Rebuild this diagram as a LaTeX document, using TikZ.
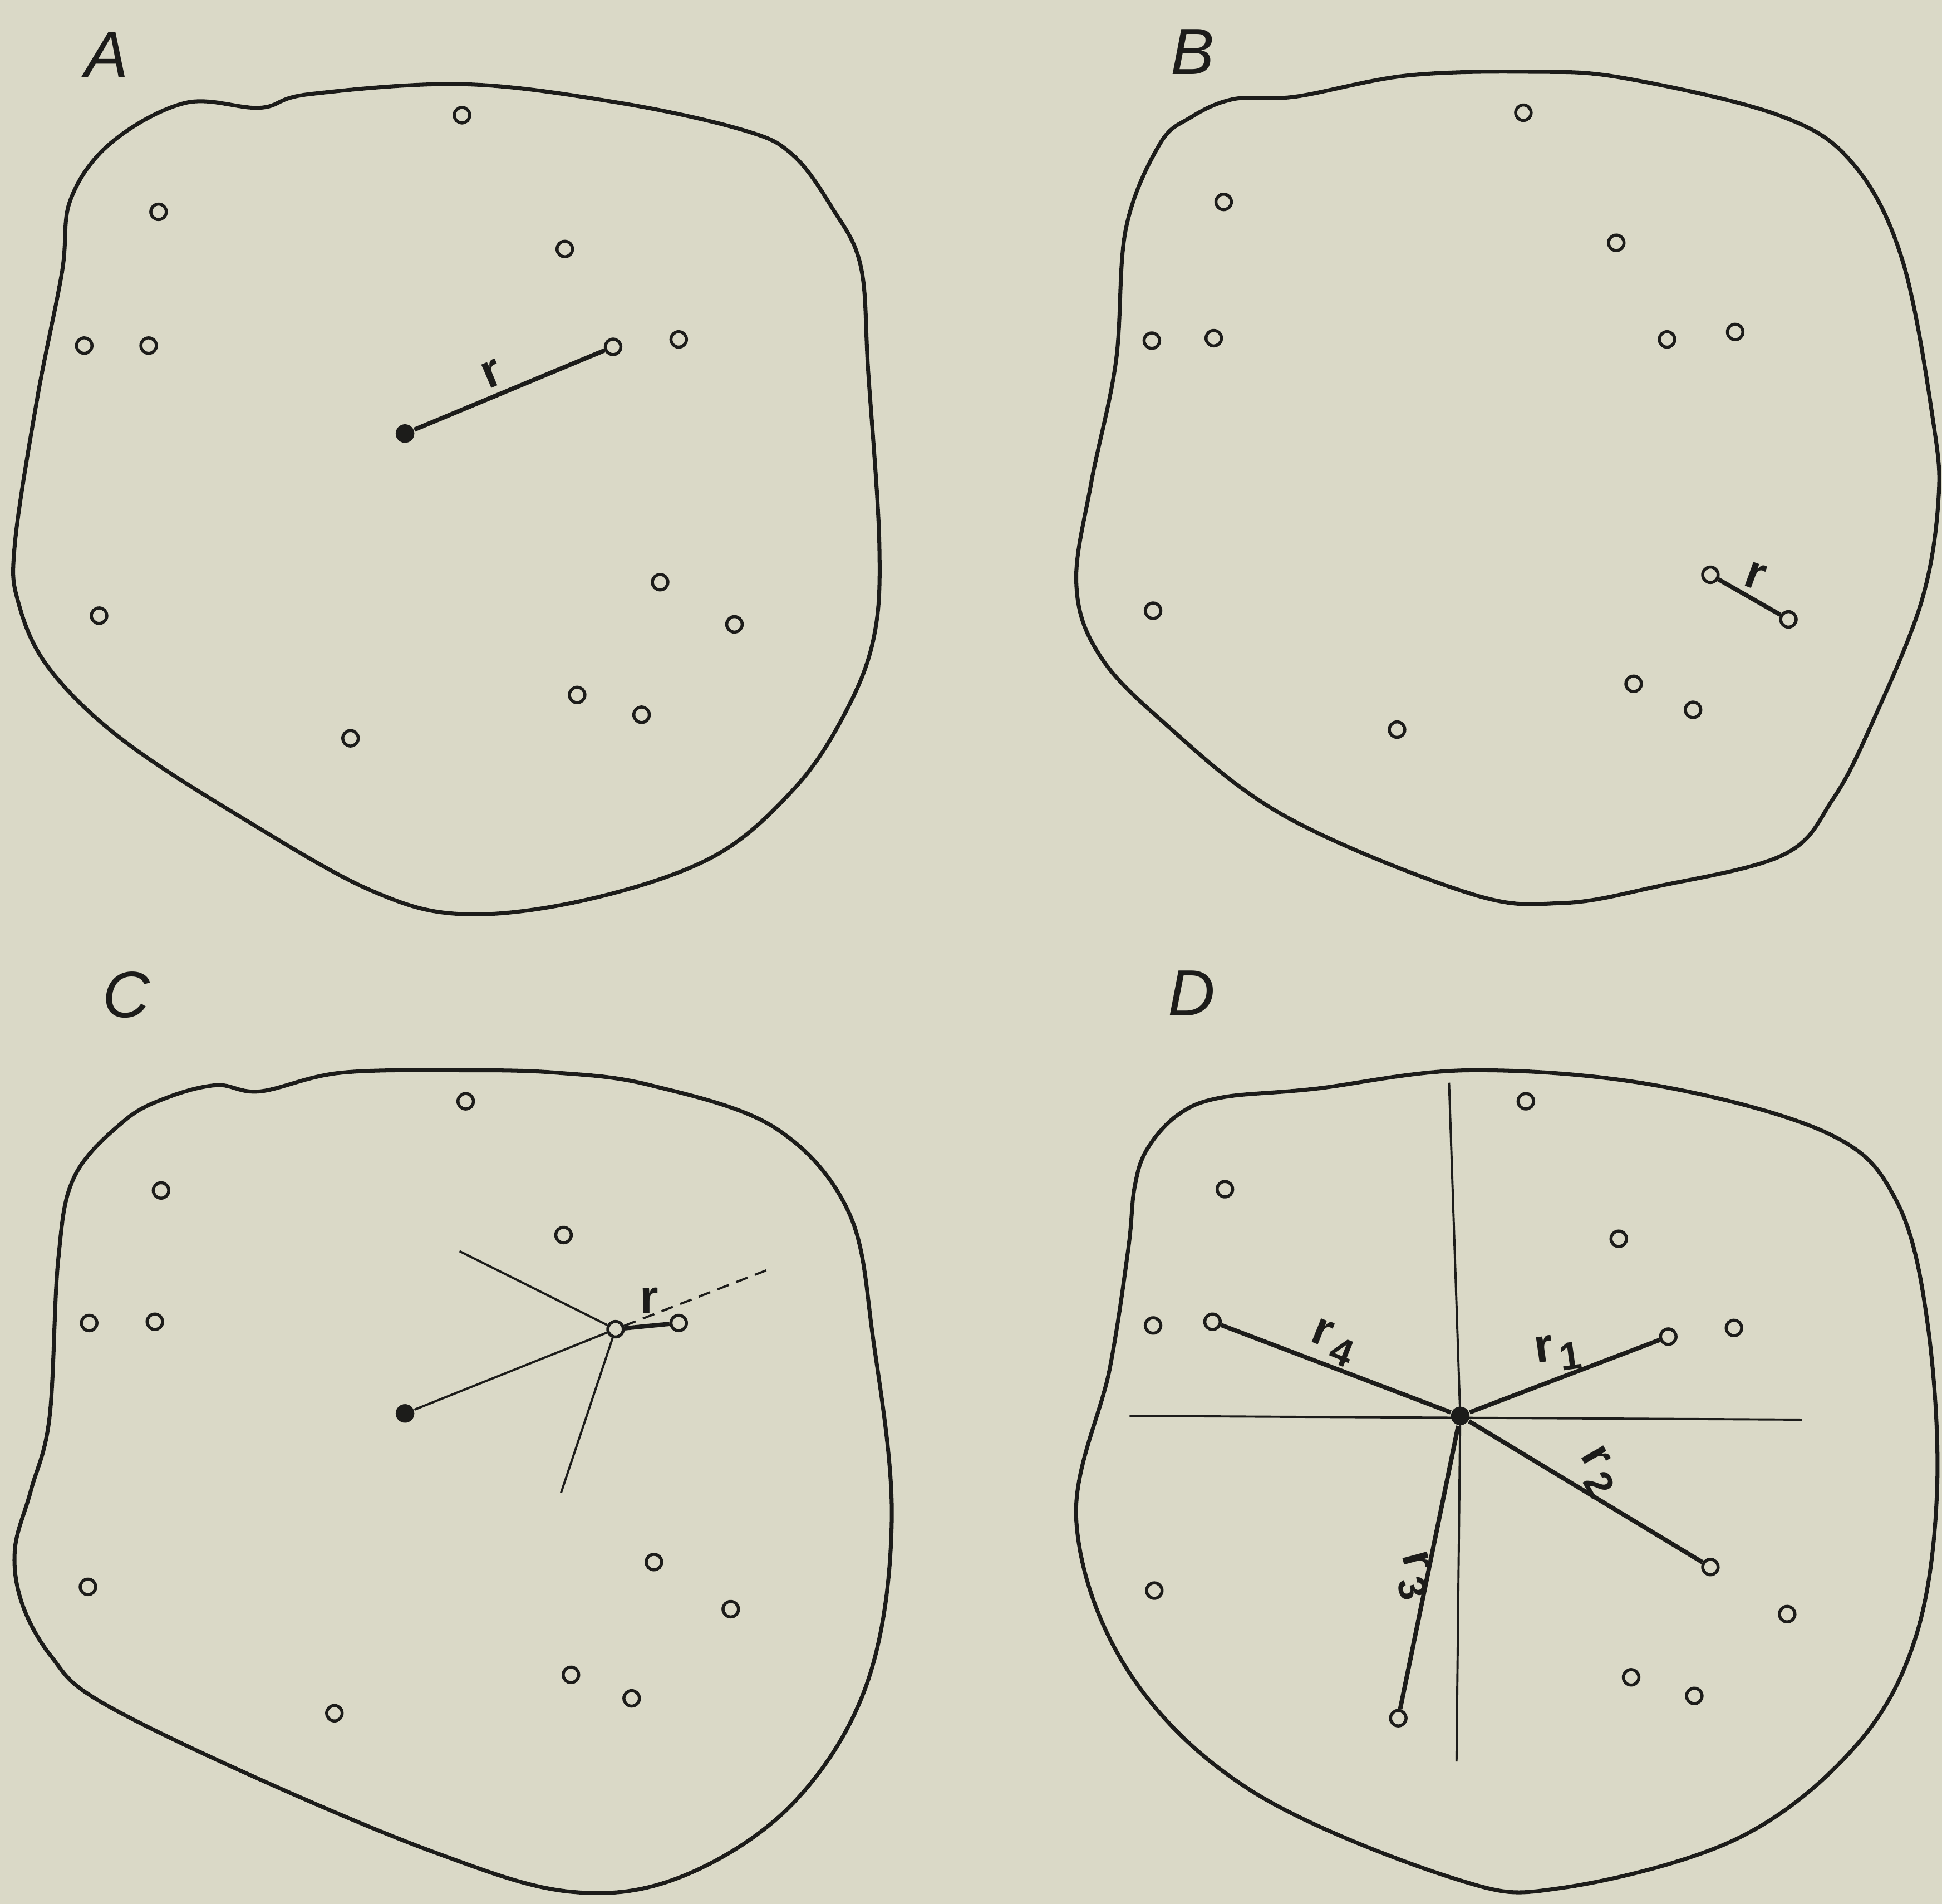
\documentclass[tikz,border=0pt]{standalone}
\usepackage{fontspec}
\setsansfont{Liberation Sans}
\begin{document}
\begin{tikzpicture}[x=0.01cm,y=-0.01cm]
\definecolor{paper}{RGB}{218,217,199}
\definecolor{ink}{RGB}{28,28,26}
\tikzset{
  pt/.style={circle,draw=ink,line width=0.7pt,minimum size=0.125cm,inner sep=0pt},
  dot/.style={circle,fill=ink,minimum size=0.15cm,inner sep=0pt},
  outline/.style={draw=ink,line width=0.9pt},
  thinl/.style={draw=ink,line width=0.5pt},
  thickl/.style={draw=ink,line width=1pt},
  panellabel/.style={font=\fontsize{15}{15}\selectfont\sffamily\itshape,text=ink},
  rlab/.style={font=\fontsize{11}{11}\selectfont\sffamily\bfseries,text=ink,inner sep=0pt}
}
\newcommand{\rsub}[1]{r\kern1.2pt\raisebox{-0.45ex}{\fontsize{9}{9}\selectfont #1}}
\fill[paper] (0,0) rectangle (1568,1537);
\useasboundingbox (0,0) rectangle (1568,1537);

% ---------------- Panel A ----------------
\node[panellabel] (labA) at (86,44) {A};
\draw[outline] plot[smooth cycle,tension=0.6] coordinates {
(150,83) (210,87) (250,76) (375,68) (500,83) (600,105) (640,125) (672,168) (695,215)
(701,300) (710,440) (705,517) (680,580) (640,638) (575,692) (475,726) (375,738) (300,719)
(200,663) (100,598) (40,540) (15,487) (12,439) (30,322) (50,220) (57,161) (90,115)};
\node[pt] (a1) at (373,93) {};
\node[pt] (a2) at (128,171) {};
\node[pt] (a3) at (456,201) {};
\node[pt] (a4) at (68,279) {};
\node[pt] (a5) at (120,279) {};
\node[pt] (a6) at (495,280) {};
\node[pt] (a7) at (548,274) {};
\node[dot] (aF) at (327,350) {};
\node[pt] (a8) at (533,470) {};
\node[pt] (a9) at (80,497) {};
\node[pt] (a10) at (593,504) {};
\node[pt] (a11) at (466,561) {};
\node[pt] (a12) at (518,577) {};
\node[pt] (a13) at (283,596) {};
\draw[thickl] (aF) -- (a6);
\node[rlab,rotate=23] (rA) at (397,302) {r};

% ---------------- Panel B ----------------
\node[panellabel] (labB) at (963,42) {B};
\draw[outline] plot[smooth cycle,tension=0.6] coordinates {
(996,80) (1046,78) (1136,61) (1236,58) (1311,63) (1436,93) (1496,132) (1536,210)
(1561,341) (1565,405) (1551,487) (1511,585) (1480,645) (1440,690) (1336,716)
(1261,729) (1186,721) (1036,658) (936,580) (886,526) (869,470) (881,390) (901,292)
(909,185) (936,117) (961,95)};
\node[pt] (b1) at (1230,91) {};
\node[pt] (b2) at (988,163) {};
\node[pt] (b3) at (1305,196) {};
\node[pt] (b4) at (930,275) {};
\node[pt] (b5) at (980,273) {};
\node[pt] (b6) at (1346,274) {};
\node[pt] (b7) at (1401,268) {};
\node[pt] (b8) at (1381,464) {};
\node[pt] (b9) at (1444,500) {};
\node[pt] (b10) at (931,493) {};
\node[pt] (b11) at (1319,552) {};
\node[pt] (b12) at (1367,573) {};
\node[pt] (b13) at (1128,589) {};
\draw[thickl] (b8) -- (b9);
\node[rlab,rotate=-20] (rB) at (1417,465) {r};

% ---------------- Panel C ----------------
\node[panellabel] (labC) at (102,803) {C};
\draw[outline] plot[smooth cycle,tension=0.6] coordinates {
(175,876) (210,881) (275,866) (375,864) (450,866) (525,876) (625,910) (685,978)
(705,1081) (720,1227) (700,1359) (640,1456) (550,1515) (460,1527) (350,1495) (200,1432)
(80,1373) (42,1338) (18,1295) (12,1251) (25,1203) (40,1144) (47,1017) (60,950) (100,905) (135,886)};
\node[pt] (c1) at (376,889) {};
\node[pt] (c2) at (130,961) {};
\node[pt] (c3) at (455,997) {};
\node[pt] (c4) at (72,1068) {};
\node[pt] (c5) at (125,1067) {};
\node[pt] (cC) at (497,1073) {};
\node[pt] (c6) at (548,1068) {};
\node[dot] (cF) at (327,1141) {};
\node[pt] (c7) at (528,1261) {};
\node[pt] (c8) at (71,1281) {};
\node[pt] (c9) at (590,1299) {};
\node[pt] (c10) at (461,1352) {};
\node[pt] (c11) at (510,1371) {};
\node[pt] (c12) at (270,1383) {};
\coordinate (cUL) at (371,1010);
\coordinate (cDL) at (453,1205);
\coordinate (cDash) at (620,1025);
\draw[thinl] (cF) -- (cC);
\draw[thinl] (cC) -- (cUL);
\draw[thinl] (cC) -- (cDL);
\draw[thinl,dash pattern=on 2.8pt off 1.8pt] (cC) -- (cDash);
\draw[thickl] (cC) -- (c6);
\node[rlab] (rC) at (524,1050) {r};

% ---------------- Panel D ----------------
\node[panellabel] (labD) at (962,802) {D};
\draw[outline] plot[smooth cycle,tension=0.6] coordinates {
(951,900) (986,886) (1061,879) (1186,864) (1336,876) (1476,915) (1531,969) (1556,1066)
(1564,1203) (1546,1324) (1496,1412) (1401,1485) (1261,1524) (1176,1517) (1011,1446)
(911,1349) (869,1227) (896,1105) (911,1008) (916,959) (926,928)};
\node[pt] (d1) at (1232,889) {};
\node[pt] (d2) at (989,960) {};
\node[pt] (d3) at (1307,1000) {};
\node[pt] (d4) at (931,1070) {};
\node[pt] (d5) at (979,1067) {};
\node[pt] (d6) at (1347,1079) {};
\node[pt] (d7) at (1400,1072) {};
\node[dot] (dC) at (1179,1143) {};
\node[pt] (d8) at (1381,1265) {};
\node[pt] (d9) at (932,1284) {};
\node[pt] (d10) at (1443,1303) {};
\node[pt] (d11) at (1317,1354) {};
\node[pt] (d12) at (1368,1369) {};
\node[pt] (d13) at (1129,1387) {};
\coordinate (vTop) at (1170,874);
\coordinate (vBot) at (1176,1422);
\coordinate (hL) at (912,1143);
\coordinate (hR) at (1455,1146);
\draw[thinl] (vTop) -- (dC.center) -- (vBot);
\draw[thinl] (hL) -- (hR);
\draw[thickl] (dC) -- (d6);
\draw[thickl] (dC) -- (d8);
\draw[thickl] (dC) -- (d13);
\draw[thickl] (dC) -- (d5);
\node[rlab,rotate=8] (r1) at (1258,1092) {\rsub{1}};
\node[rlab,rotate=-60] (r2) at (1290,1188) {\rsub{2}};
\node[rlab,rotate=-75] (r3) at (1142,1272) {\rsub{3}};
\node[rlab,rotate=-22] (r4) at (1076,1084) {\rsub{4}};
\end{tikzpicture}
\end{document}
